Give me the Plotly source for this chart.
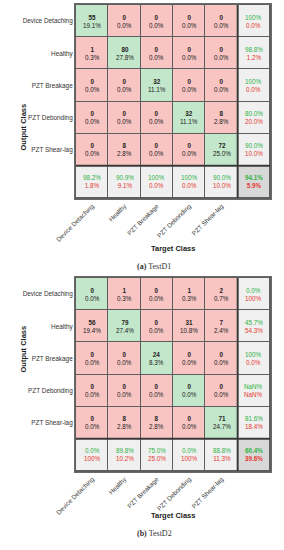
import plotly.graph_objects as go
import math

classes = ["Device Detaching", "Healthy", "PZT Breakage", "PZT Debonding", "PZT Shear-lag"]

# rows = output class, cols = target class
counts_d1 = [
    [55, 0, 0, 0, 0],
    [1, 80, 0, 0, 0],
    [0, 0, 32, 0, 0],
    [0, 0, 0, 32, 8],
    [0, 8, 0, 0, 72],
]
row_acc_d1 = [100, 98.8, 100, 80.0, 90.0]
row_err_d1 = [0.0, 1.2, 0.0, 20.0, 10.0]
col_acc_d1 = [98.2, 90.9, 100, 100, 90.0]
col_err_d1 = [1.8, 9.1, 0.0, 0.0, 10.0]
tot_d1 = [94.1, 5.9]

counts_d2 = [
    [0, 1, 0, 1, 2],
    [56, 79, 0, 31, 7],
    [0, 0, 24, 0, 0],
    [0, 0, 0, 0, 0],
    [0, 8, 8, 0, 71],
]
row_acc_d2 = [0.0, 45.7, 100, float("nan"), 81.6]
row_err_d2 = [100, 54.3, 0.0, float("nan"), 18.4]
col_acc_d2 = [0.0, 89.8, 75.0, 0.0, 88.8]
col_err_d2 = [100, 10.2, 25.0, 100, 11.3]
tot_d2 = [60.4, 39.6]

captions = ["<b>(a)</b> TestD1", "<b>(b)</b> TestD2"]

GREEN_CELL = "#c3e7ca"
RED_CELL = "#f8c5c2"
GRAY_CELL = "#f0f0f0"
DARK_CELL = "#d8d8d8"
GREEN_TXT = "#2fb344"
RED_TXT = "#e5392f"
FONT = "Liberation Sans, Arial, sans-serif"


def fmt(v):
    if isinstance(v, float) and math.isnan(v):
        return "NaN%"
    if v == 100:
        return "100%"
    return f"{v:.1f}%"


def two(a, e, bold=False):
    if bold:
        return (f"<span style='color:{GREEN_TXT}'><b>{fmt(a)}</b></span><br>"
                f"<span style='color:{RED_TXT}'><b>{fmt(e)}</b></span>")
    return (f"<span style='color:{GREEN_TXT}'>{fmt(a)}</span><br>"
            f"<span style='color:{RED_TXT}'>{fmt(e)}</span>")


W, H = 284, 550
panels = [
    dict(counts=counts_d1, ra=row_acc_d1, re=row_err_d1, ca=col_acc_d1, ce=col_err_d1, tot=tot_d1,
         top=4, bottom=199, tc=249, cap=266.5),
    dict(counts=counts_d2, ra=row_acc_d2, re=row_err_d2, ca=col_acc_d2, ce=col_err_d2, tot=tot_d2,
         top=277, bottom=472, tc=522, cap=540),
]

fig = go.Figure()
annotations = []
shapes = []
n = len(classes)
xcats = classes + [" "]
ycats = classes + [" "]

for k, p in enumerate(panels):
    sfx = "" if k == 0 else str(k + 1)
    xa, ya = "x" + sfx, "y" + sfx
    total = sum(sum(r) for r in p["counts"])
    z = []
    for i in range(n + 1):
        row = []
        for j in range(n + 1):
            if i == n and j == n:
                row.append(3)
            elif i == n or j == n:
                row.append(2)
            elif i == j:
                row.append(0)
            else:
                row.append(1)
        z.append(row)
    fig.add_trace(go.Heatmap(
        x=xcats, y=ycats, z=z, zmin=0, zmax=3,
        colorscale=[[0, GREEN_CELL], [1 / 3, RED_CELL], [2 / 3, GRAY_CELL], [1, DARK_CELL]],
        showscale=False, xgap=1, ygap=1, hoverinfo="skip",
        xaxis=xa, yaxis=ya,
    ))
    for i in range(n):
        for j in range(n):
            c = p["counts"][i][j]
            annotations.append(dict(
                x=xcats[j], y=ycats[i], xref=xa, yref=ya, showarrow=False,
                text=f"<b>{c}</b><br>{100 * c / total:.1f}%",
                font=dict(family=FONT, size=6.3, color="#222222")))
        annotations.append(dict(
            x=xcats[n], y=ycats[i], xref=xa, yref=ya, showarrow=False,
            text=two(p["ra"][i], p["re"][i]), font=dict(family=FONT, size=6.3)))
    for j in range(n):
        annotations.append(dict(
            x=xcats[j], y=ycats[n], xref=xa, yref=ya, showarrow=False,
            text=two(p["ca"][j], p["ce"][j]), font=dict(family=FONT, size=6.3)))
    annotations.append(dict(
        x=xcats[n], y=ycats[n], xref=xa, yref=ya, showarrow=False,
        text=two(p["tot"][0], p["tot"][1], bold=True), font=dict(family=FONT, size=6.3)))

    # thick separators before summary row / column
    shapes.append(dict(type="line", xref=xa, yref=ya, x0=n - 0.5, x1=n - 0.5, y0=-0.5, y1=n + 0.5,
                       line=dict(color="#3a3a3a", width=2)))
    shapes.append(dict(type="line", xref=xa, yref=ya, x0=-0.5, x1=n + 0.5, y0=n - 0.5, y1=n - 0.5,
                       line=dict(color="#3a3a3a", width=2)))

    ydom = [1 - p["bottom"] / H, 1 - p["top"] / H]
    xdom = [75 / W, 271 / W]
    fig.layout["xaxis" + sfx] = dict(
        domain=xdom, anchor=ya, type="category", tickangle=-45, ticks="",
        showline=True, mirror=True, linecolor="#6a6a6a", linewidth=1, automargin=False,
        tickfont=dict(family=FONT, size=6.4, color="#333333"), showgrid=False, zeroline=False,
        fixedrange=True)
    fig.layout["yaxis" + sfx] = dict(
        domain=ydom, anchor=xa, type="category", autorange="reversed", ticks="",
        showline=True, mirror=True, linecolor="#6a6a6a", linewidth=1, automargin=False,
        tickfont=dict(family=FONT, size=6.4, color="#333333"), showgrid=False, zeroline=False,
        fixedrange=True)

    annotations.append(dict(
        x=16 / W, y=1 - (p["top"] + p["bottom"]) / 2 / H, xref="paper", yref="paper",
        text="<b>Output Class</b>", textangle=-90, showarrow=False,
        font=dict(family=FONT, size=7.5, color="#222222")))
    annotations.append(dict(
        x=173 / W, y=1 - p["tc"] / H, xref="paper", yref="paper",
        text="<b>Target Class</b>", showarrow=False,
        font=dict(family=FONT, size=7.5, color="#222222")))
    annotations.append(dict(
        x=154 / W, y=1 - p["cap"] / H, xref="paper", yref="paper",
        text=captions[k], showarrow=False,
        font=dict(family="Liberation Serif, Times New Roman, serif", size=8, color="#333333")))

fig.update_layout(
    template="none",
    width=W, height=H, margin=dict(l=0, r=0, t=0, b=0),
    plot_bgcolor="#5e5e5e", paper_bgcolor="white",
    annotations=annotations, shapes=shapes, showlegend=False,
)

fig.write_html(
    "out.html",
    config={"displayModeBar": False},
    post_script="document.body.style.margin='0';document.body.style.overflow='hidden';",
)
